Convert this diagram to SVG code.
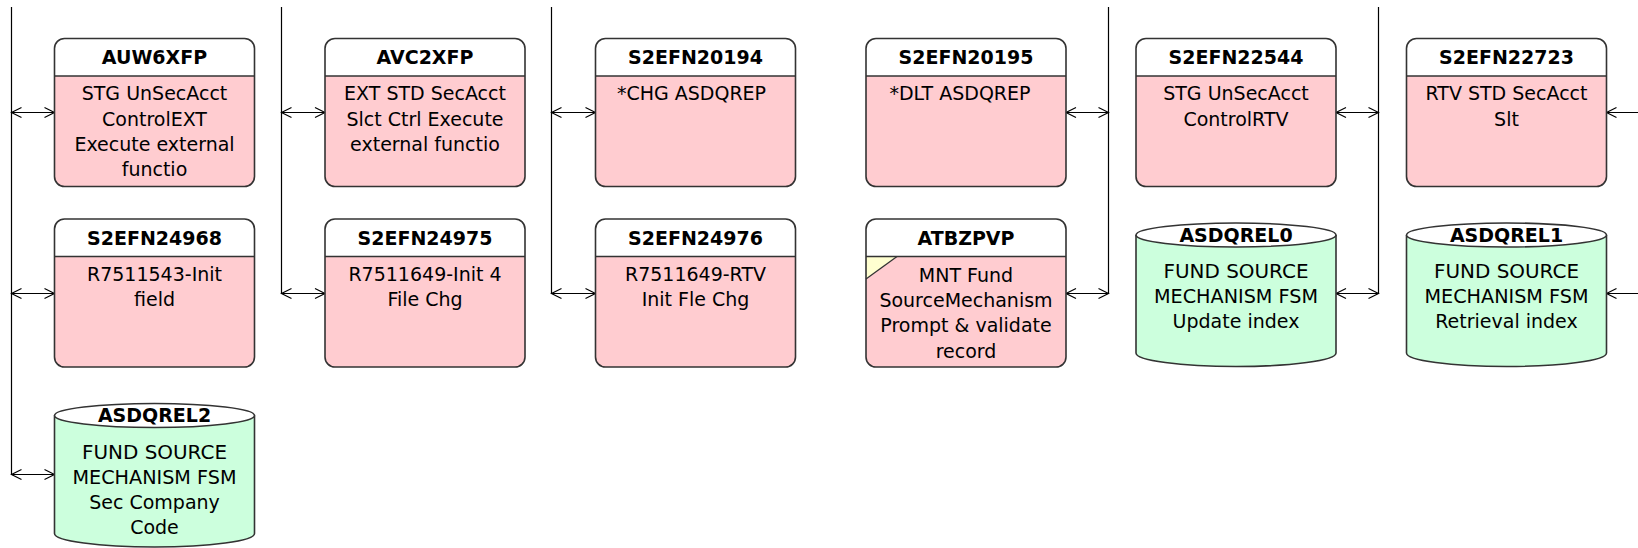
<svg xmlns="http://www.w3.org/2000/svg" width="1638" height="548" viewBox="0 0 1638 548">
<style>
  .bg{fill:#ffffff}
  .hdr{fill:#ffffff;stroke:none}
  .body{fill:#ffccd0;stroke:none}
  .frame{fill:none;stroke:#333333;stroke-width:1.6}
  .sep{stroke:#333333;stroke-width:1.6}
  .cyl{fill:#ccffdd;stroke:#333333;stroke-width:1.6}
  .cyltop{fill:#ffffff;stroke:#333333;stroke-width:1.6}
  .fold{fill:#ffffd0;stroke:none}
  .foldline{stroke:#333333;stroke-width:1.3}
  .title{font-family:"DejaVu Sans",sans-serif;font-weight:bold;font-size:19px;fill:#000;text-anchor:middle}
  .txt{font-family:"DejaVu Sans",sans-serif;font-size:19px;fill:#000;text-anchor:middle}
  .bus{stroke:#000;stroke-width:1.2;fill:none}
  .arr{stroke:#000;stroke-width:1.2;fill:none;marker-start:url(#head);marker-end:url(#head)}
</style>
<defs>
  <marker id="head" markerUnits="userSpaceOnUse" markerWidth="14" markerHeight="14" refX="10" refY="5" orient="auto-start-reverse" viewBox="-2 -2 14 14">
    <path d="M0,0 L10,5 L0,10" fill="none" stroke="#000" stroke-width="1.2"/>
  </marker>
</defs>
<rect class="bg" x="0" y="0" width="1638" height="548"/>

<g id="connectors">
  <path class="bus" d="M11.5,7 V474.5"/>
  <path class="bus" d="M281.5,7 V293.5"/>
  <path class="bus" d="M551.5,7 V293.5"/>
  <path class="bus" d="M1108.5,7 V293.5"/>
  <path class="bus" d="M1378.5,7 V293.5"/>
  <!-- row 1 -->
  <path class="arr" d="M11.5,112.5 H54.5"/>
  <path class="arr" d="M281.5,112.5 H325"/>
  <path class="arr" d="M551.5,112.5 H595.5"/>
  <path class="arr" d="M1066,112.5 H1108.5"/>
  <path class="arr" d="M1336,112.5 H1378.5"/>
  <path class="arr" d="M1606.5,112.5 H1650"/>
  <!-- row 2 -->
  <path class="arr" d="M11.5,293.5 H54.5"/>
  <path class="arr" d="M281.5,293.5 H325"/>
  <path class="arr" d="M551.5,293.5 H595.5"/>
  <path class="arr" d="M1066,293.5 H1108.5"/>
  <path class="arr" d="M1336,293.5 H1378.5"/>
  <path class="arr" d="M1606.5,293.5 H1650"/>
  <!-- row 3 -->
  <path class="arr" d="M11.5,474.5 H54.5"/>
</g>

<!-- Row 1 -->
<g id="AUW6XFP" transform="translate(54.5,38.5)">
  <path class="hdr" d="M0,37.5 V10 A10,10 0 0 1 10,0 H190 A10,10 0 0 1 200,10 V37.5 Z"/>
  <path class="body" d="M0,37.5 H200 V138 A10,10 0 0 1 190,148 H10 A10,10 0 0 1 0,138 Z"/>
  <rect class="frame" x="0" y="0" width="200" height="148" rx="10"/>
  <line class="sep" x1="0" y1="37.5" x2="200" y2="37.5"/>
  <text class="title" x="100" y="25.7">AUW6XFP</text>
  <text class="txt" x="100" y="61.7">STG UnSecAcct</text>
  <text class="txt" x="100" y="87.1">ControlEXT</text>
  <text class="txt" x="100" y="112.5">Execute external</text>
  <text class="txt" x="100" y="137.9">functio</text>
</g>
<g id="AVC2XFP" transform="translate(325,38.5)">
  <path class="hdr" d="M0,37.5 V10 A10,10 0 0 1 10,0 H190 A10,10 0 0 1 200,10 V37.5 Z"/>
  <path class="body" d="M0,37.5 H200 V138 A10,10 0 0 1 190,148 H10 A10,10 0 0 1 0,138 Z"/>
  <rect class="frame" x="0" y="0" width="200" height="148" rx="10"/>
  <line class="sep" x1="0" y1="37.5" x2="200" y2="37.5"/>
  <text class="title" x="100" y="25.7">AVC2XFP</text>
  <text class="txt" x="100" y="61.7">EXT STD SecAcct</text>
  <text class="txt" x="100" y="87.1">Slct Ctrl Execute</text>
  <text class="txt" x="100" y="112.5">external functio</text>
</g>
<g id="S2EFN20194" transform="translate(595.5,38.5)">
  <path class="hdr" d="M0,37.5 V10 A10,10 0 0 1 10,0 H190 A10,10 0 0 1 200,10 V37.5 Z"/>
  <path class="body" d="M0,37.5 H200 V138 A10,10 0 0 1 190,148 H10 A10,10 0 0 1 0,138 Z"/>
  <rect class="frame" x="0" y="0" width="200" height="148" rx="10"/>
  <line class="sep" x1="0" y1="37.5" x2="200" y2="37.5"/>
  <text class="title" x="100" y="25.7">S2EFN20194</text>
  <text class="txt" x="96" y="61.7">*CHG ASDQREP</text>
</g>
<g id="S2EFN20195" transform="translate(866,38.5)">
  <path class="hdr" d="M0,37.5 V10 A10,10 0 0 1 10,0 H190 A10,10 0 0 1 200,10 V37.5 Z"/>
  <path class="body" d="M0,37.5 H200 V138 A10,10 0 0 1 190,148 H10 A10,10 0 0 1 0,138 Z"/>
  <rect class="frame" x="0" y="0" width="200" height="148" rx="10"/>
  <line class="sep" x1="0" y1="37.5" x2="200" y2="37.5"/>
  <text class="title" x="100" y="25.7">S2EFN20195</text>
  <text class="txt" x="94" y="61.7">*DLT ASDQREP</text>
</g>
<g id="S2EFN22544" transform="translate(1136,38.5)">
  <path class="hdr" d="M0,37.5 V10 A10,10 0 0 1 10,0 H190 A10,10 0 0 1 200,10 V37.5 Z"/>
  <path class="body" d="M0,37.5 H200 V138 A10,10 0 0 1 190,148 H10 A10,10 0 0 1 0,138 Z"/>
  <rect class="frame" x="0" y="0" width="200" height="148" rx="10"/>
  <line class="sep" x1="0" y1="37.5" x2="200" y2="37.5"/>
  <text class="title" x="100" y="25.7">S2EFN22544</text>
  <text class="txt" x="100" y="61.7">STG UnSecAcct</text>
  <text class="txt" x="100" y="87.1">ControlRTV</text>
</g>
<g id="S2EFN22723" transform="translate(1406.5,38.5)">
  <path class="hdr" d="M0,37.5 V10 A10,10 0 0 1 10,0 H190 A10,10 0 0 1 200,10 V37.5 Z"/>
  <path class="body" d="M0,37.5 H200 V138 A10,10 0 0 1 190,148 H10 A10,10 0 0 1 0,138 Z"/>
  <rect class="frame" x="0" y="0" width="200" height="148" rx="10"/>
  <line class="sep" x1="0" y1="37.5" x2="200" y2="37.5"/>
  <text class="title" x="100" y="25.7">S2EFN22723</text>
  <text class="txt" x="100" y="61.7">RTV STD SecAcct</text>
  <text class="txt" x="100" y="87.1">Slt</text>
</g>

<!-- Row 2 -->
<g id="S2EFN24968" transform="translate(54.5,219)">
  <path class="hdr" d="M0,37.5 V10 A10,10 0 0 1 10,0 H190 A10,10 0 0 1 200,10 V37.5 Z"/>
  <path class="body" d="M0,37.5 H200 V138 A10,10 0 0 1 190,148 H10 A10,10 0 0 1 0,138 Z"/>
  <rect class="frame" x="0" y="0" width="200" height="148" rx="10"/>
  <line class="sep" x1="0" y1="37.5" x2="200" y2="37.5"/>
  <text class="title" x="100" y="25.7">S2EFN24968</text>
  <text class="txt" x="100" y="61.7">R7511543-Init</text>
  <text class="txt" x="100" y="87.1">field</text>
</g>
<g id="S2EFN24975" transform="translate(325,219)">
  <path class="hdr" d="M0,37.5 V10 A10,10 0 0 1 10,0 H190 A10,10 0 0 1 200,10 V37.5 Z"/>
  <path class="body" d="M0,37.5 H200 V138 A10,10 0 0 1 190,148 H10 A10,10 0 0 1 0,138 Z"/>
  <rect class="frame" x="0" y="0" width="200" height="148" rx="10"/>
  <line class="sep" x1="0" y1="37.5" x2="200" y2="37.5"/>
  <text class="title" x="100" y="25.7">S2EFN24975</text>
  <text class="txt" x="100" y="61.7">R7511649-Init 4</text>
  <text class="txt" x="100" y="87.1">File Chg</text>
</g>
<g id="S2EFN24976" transform="translate(595.5,219)">
  <path class="hdr" d="M0,37.5 V10 A10,10 0 0 1 10,0 H190 A10,10 0 0 1 200,10 V37.5 Z"/>
  <path class="body" d="M0,37.5 H200 V138 A10,10 0 0 1 190,148 H10 A10,10 0 0 1 0,138 Z"/>
  <rect class="frame" x="0" y="0" width="200" height="148" rx="10"/>
  <line class="sep" x1="0" y1="37.5" x2="200" y2="37.5"/>
  <text class="title" x="100" y="25.7">S2EFN24976</text>
  <text class="txt" x="100" y="61.7">R7511649-RTV</text>
  <text class="txt" x="100" y="87.1">Init Fle Chg</text>
</g>
<g id="ATBZPVP" transform="translate(866,219)">
  <path class="hdr" d="M0,37.5 V10 A10,10 0 0 1 10,0 H190 A10,10 0 0 1 200,10 V37.5 Z"/>
  <path class="body" d="M0,37.5 H200 V138 A10,10 0 0 1 190,148 H10 A10,10 0 0 1 0,138 Z"/>
  <path class="fold" d="M0,37.5 H31 L0,60 Z"/>
  <line class="foldline" x1="0" y1="60" x2="31" y2="37.5"/>
  <rect class="frame" x="0" y="0" width="200" height="148" rx="10"/>
  <line class="sep" x1="0" y1="37.5" x2="200" y2="37.5"/>
  <text class="title" x="100" y="25.7">ATBZPVP</text>
  <text class="txt" x="100" y="62.5">MNT Fund</text>
  <text class="txt" x="100" y="87.9">SourceMechanism</text>
  <text class="txt" x="100" y="113.3">Prompt &amp; validate</text>
  <text class="txt" x="100" y="138.7">record</text>
</g>
<g id="ASDQREL0" transform="translate(1136,235)">
  <path class="cyl" d="M0,0 V118 A100,13.5 0 0 0 200,118 V0"/>
  <ellipse class="cyltop" cx="100" cy="0" rx="100" ry="12"/>
  <text class="title" x="100" y="6.7">ASDQREL0</text>
  <text class="txt" x="100" y="43.3" textLength="145" lengthAdjust="spacingAndGlyphs">FUND SOURCE</text>
  <text class="txt" x="100" y="68.3" textLength="164" lengthAdjust="spacingAndGlyphs">MECHANISM FSM</text>
  <text class="txt" x="100" y="93.3">Update index</text>
</g>
<g id="ASDQREL1" transform="translate(1406.5,235)">
  <path class="cyl" d="M0,0 V118 A100,13.5 0 0 0 200,118 V0"/>
  <ellipse class="cyltop" cx="100" cy="0" rx="100" ry="12"/>
  <text class="title" x="100" y="6.7">ASDQREL1</text>
  <text class="txt" x="100" y="43.3" textLength="145" lengthAdjust="spacingAndGlyphs">FUND SOURCE</text>
  <text class="txt" x="100" y="68.3" textLength="164" lengthAdjust="spacingAndGlyphs">MECHANISM FSM</text>
  <text class="txt" x="100" y="93.3">Retrieval index</text>
</g>

<!-- Row 3 -->
<g id="ASDQREL2" transform="translate(54.5,415.5)">
  <path class="cyl" d="M0,0 V118 A100,13.5 0 0 0 200,118 V0"/>
  <ellipse class="cyltop" cx="100" cy="0" rx="100" ry="12"/>
  <text class="title" x="100" y="6.7">ASDQREL2</text>
  <text class="txt" x="100" y="43.3" textLength="145" lengthAdjust="spacingAndGlyphs">FUND SOURCE</text>
  <text class="txt" x="100" y="68.3" textLength="164" lengthAdjust="spacingAndGlyphs">MECHANISM FSM</text>
  <text class="txt" x="100" y="93.3">Sec Company</text>
  <text class="txt" x="100" y="118.3">Code</text>
</g>
</svg>
